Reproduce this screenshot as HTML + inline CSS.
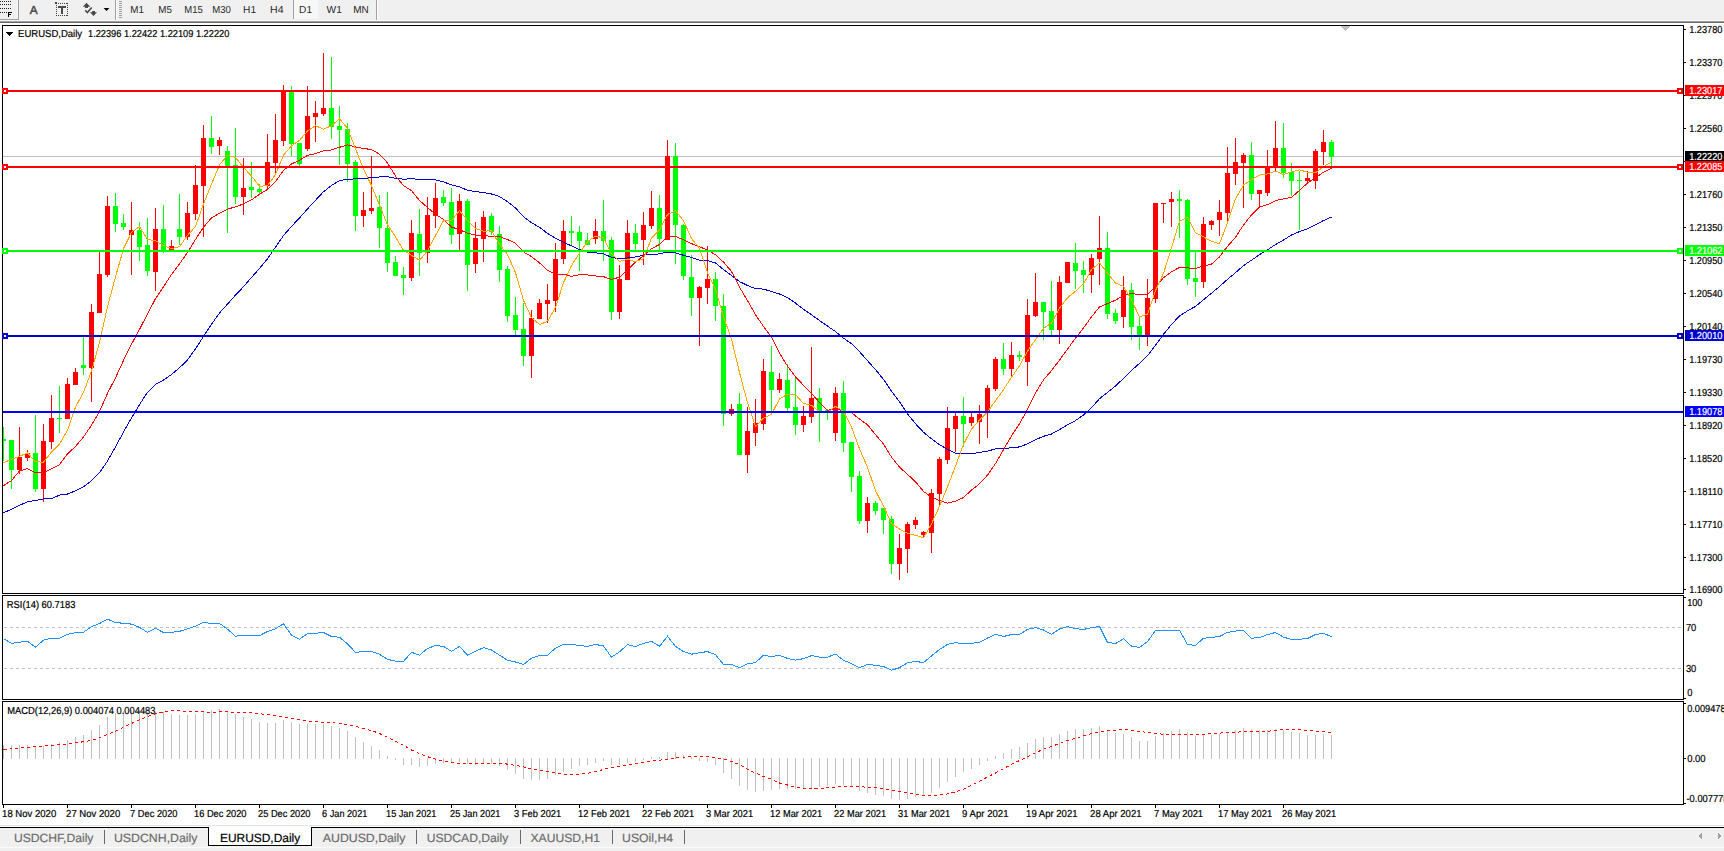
<!DOCTYPE html>
<html><head><meta charset="utf-8"><title>EURUSD,Daily</title>
<style>
html,body{margin:0;padding:0;background:#fff;}
body{width:1724px;height:851px;overflow:hidden;}
svg{display:block;font-family:"Liberation Sans", Arial, sans-serif;text-rendering:geometricPrecision;}
</style></head>
<body>
<svg width="1724" height="851" viewBox="0 0 1724 851" shape-rendering="crispEdges">
<rect x="0" y="0" width="1724" height="851" fill="#ffffff"/>
<rect x="0" y="0" width="1724" height="20" fill="#f0f0f0"/>
<rect x="0" y="20" width="1724" height="1" fill="#f6f6f6"/>
<rect x="0" y="21" width="1724" height="1" fill="#a0a0a0"/>
<rect x="0" y="22" width="1724" height="1" fill="#696969"/>
<rect x="18" y="0" width="1" height="19" fill="#a0a0a0"/>
<rect x="0" y="19" width="19" height="1" fill="#a0a0a0"/>
<rect x="17" y="0" width="1" height="19" fill="#f8f8f8"/>
<rect x="0" y="1" width="1" height="1" fill="#202020"/>
<rect x="2" y="1" width="1" height="1" fill="#202020"/>
<rect x="4" y="1" width="1" height="1" fill="#202020"/>
<rect x="6" y="1" width="1" height="1" fill="#202020"/>
<rect x="8" y="1" width="1" height="1" fill="#202020"/>
<rect x="10" y="1" width="1" height="1" fill="#202020"/>
<rect x="0" y="4" width="1" height="1" fill="#202020"/>
<rect x="2" y="4" width="1" height="1" fill="#202020"/>
<rect x="4" y="4" width="1" height="1" fill="#202020"/>
<rect x="6" y="4" width="1" height="1" fill="#202020"/>
<rect x="8" y="4" width="1" height="1" fill="#202020"/>
<rect x="10" y="4" width="1" height="1" fill="#202020"/>
<rect x="0" y="8" width="1" height="1" fill="#202020"/>
<rect x="2" y="8" width="1" height="1" fill="#202020"/>
<rect x="4" y="8" width="1" height="1" fill="#202020"/>
<rect x="6" y="8" width="1" height="1" fill="#202020"/>
<rect x="8" y="8" width="1" height="1" fill="#202020"/>
<rect x="10" y="8" width="1" height="1" fill="#202020"/>
<rect x="0" y="12" width="1" height="1" fill="#202020"/>
<rect x="2" y="12" width="1" height="1" fill="#202020"/>
<rect x="4" y="12" width="1" height="1" fill="#202020"/>
<rect x="6" y="12" width="1" height="1" fill="#202020"/>
<rect x="8" y="12" width="1" height="5" fill="#000"/>
<rect x="8" y="12" width="4" height="1" fill="#000"/>
<rect x="8" y="14" width="3" height="1" fill="#000"/>
<text x="29.8" y="14" font-size="11.8" fill="#4a4a4a" text-anchor="start" stroke="#4a4a4a" stroke-width="0.5">A</text>
<rect x="56" y="3" width="1" height="1" fill="#404040"/>
<rect x="56" y="15" width="1" height="1" fill="#404040"/>
<rect x="58" y="3" width="1" height="1" fill="#404040"/>
<rect x="58" y="15" width="1" height="1" fill="#404040"/>
<rect x="60" y="3" width="1" height="1" fill="#404040"/>
<rect x="60" y="15" width="1" height="1" fill="#404040"/>
<rect x="62" y="3" width="1" height="1" fill="#404040"/>
<rect x="62" y="15" width="1" height="1" fill="#404040"/>
<rect x="64" y="3" width="1" height="1" fill="#404040"/>
<rect x="64" y="15" width="1" height="1" fill="#404040"/>
<rect x="66" y="3" width="1" height="1" fill="#404040"/>
<rect x="66" y="15" width="1" height="1" fill="#404040"/>
<rect x="56" y="3" width="1" height="1" fill="#404040"/>
<rect x="67" y="3" width="1" height="1" fill="#404040"/>
<rect x="56" y="5" width="1" height="1" fill="#404040"/>
<rect x="67" y="5" width="1" height="1" fill="#404040"/>
<rect x="56" y="7" width="1" height="1" fill="#404040"/>
<rect x="67" y="7" width="1" height="1" fill="#404040"/>
<rect x="56" y="9" width="1" height="1" fill="#404040"/>
<rect x="67" y="9" width="1" height="1" fill="#404040"/>
<rect x="56" y="11" width="1" height="1" fill="#404040"/>
<rect x="67" y="11" width="1" height="1" fill="#404040"/>
<rect x="56" y="13" width="1" height="1" fill="#404040"/>
<rect x="67" y="13" width="1" height="1" fill="#404040"/>
<rect x="56" y="15" width="1" height="1" fill="#404040"/>
<rect x="67" y="15" width="1" height="1" fill="#404040"/>
<rect x="55" y="2" width="2" height="2" fill="#404040"/>
<rect x="58" y="6" width="8" height="2" fill="#4a4a4a"/>
<rect x="61" y="6" width="2" height="8" fill="#4a4a4a"/>
<g shape-rendering="geometricPrecision">
<path d="M86.5 2.8 L90.2 6.8 L88 6.8 L88 7.9 L85.1 7.9 L85.1 6.8 L82.8 6.8 Z" fill="#484848"/>
<path d="M85.2 10.2 L87.4 12.6 L91.7 7.4" stroke="#484848" stroke-width="1.5" fill="none"/>
<path d="M92.2 11.1 L95 11.1 L95 12.2 L97 12.2 L93.5 15.9 L90 12.2 L92.2 12.2 Z" fill="#484848"/>
<path d="M103.6 8 L109.4 8 L106.5 11 Z" fill="#000"/>
</g>
<rect x="115" y="0" width="1" height="20" fill="#a0a0a0"/>
<rect x="116" y="0" width="1" height="20" fill="#ffffff"/>
<rect x="119" y="1" width="3" height="1" fill="#a0a0a0"/>
<rect x="119" y="3" width="3" height="1" fill="#a0a0a0"/>
<rect x="119" y="5" width="3" height="1" fill="#a0a0a0"/>
<rect x="119" y="7" width="3" height="1" fill="#a0a0a0"/>
<rect x="119" y="9" width="3" height="1" fill="#a0a0a0"/>
<rect x="119" y="11" width="3" height="1" fill="#a0a0a0"/>
<rect x="119" y="13" width="3" height="1" fill="#a0a0a0"/>
<rect x="119" y="15" width="3" height="1" fill="#a0a0a0"/>
<rect x="119" y="17" width="3" height="1" fill="#a0a0a0"/>
<rect x="294" y="0" width="24" height="19" fill="#f7f7f7"/>
<rect x="293" y="0" width="1" height="19" fill="#a0a0a0"/>
<text x="130.29999999999998" y="13" font-size="10.2" fill="#2a2a2a" text-anchor="start" textLength="13.6" lengthAdjust="spacingAndGlyphs">M1</text>
<text x="158.29999999999998" y="13" font-size="10.2" fill="#2a2a2a" text-anchor="start" textLength="13.6" lengthAdjust="spacingAndGlyphs">M5</text>
<text x="184.29999999999998" y="13" font-size="10.2" fill="#2a2a2a" text-anchor="start" textLength="18.5" lengthAdjust="spacingAndGlyphs">M15</text>
<text x="212.2" y="13" font-size="10.2" fill="#2a2a2a" text-anchor="start" textLength="18.7" lengthAdjust="spacingAndGlyphs">M30</text>
<text x="243.1" y="13" font-size="10.2" fill="#2a2a2a" text-anchor="start" textLength="13" lengthAdjust="spacingAndGlyphs">H1</text>
<text x="270.1" y="13" font-size="10.2" fill="#2a2a2a" text-anchor="start" textLength="13.5" lengthAdjust="spacingAndGlyphs">H4</text>
<text x="299.1" y="13" font-size="10.2" fill="#2a2a2a" text-anchor="start" textLength="12.9" lengthAdjust="spacingAndGlyphs">D1</text>
<text x="326.6" y="13" font-size="10.2" fill="#2a2a2a" text-anchor="start" textLength="15.3" lengthAdjust="spacingAndGlyphs">W1</text>
<text x="353.3" y="13" font-size="10.2" fill="#2a2a2a" text-anchor="start" textLength="15.5" lengthAdjust="spacingAndGlyphs">MN</text>
<rect x="376" y="0" width="1" height="20" fill="#a0a0a0"/>
<rect x="377" y="0" width="1" height="20" fill="#ffffff"/>
<clipPath id="cm"><rect x="3" y="26" width="1680" height="567"/></clipPath>
<clipPath id="cr"><rect x="3" y="596" width="1680" height="103"/></clipPath>
<clipPath id="cd"><rect x="3" y="702" width="1680" height="102"/></clipPath>
<g clip-path="url(#cm)">
<rect x="3" y="156" width="1680" height="1" fill="#c0c0c0"/>
<path d="M1341 26 L1350 26 L1345.5 31 Z" fill="#c0c0c0"/>
<rect x="3" y="427" width="1" height="34" fill="#00ff00"/>
<rect x="1" y="439" width="5" height="2" fill="#00ff00"/>
<rect x="11" y="440" width="1" height="49" fill="#00ff00"/>
<rect x="9" y="440" width="5" height="30" fill="#00ff00"/>
<rect x="19" y="427" width="1" height="47" fill="#ff0000"/>
<rect x="17" y="457" width="5" height="13" fill="#ff0000"/>
<rect x="27" y="450" width="1" height="11" fill="#ff0000"/>
<rect x="25" y="453" width="5" height="5" fill="#ff0000"/>
<rect x="35" y="415" width="1" height="77" fill="#00ff00"/>
<rect x="33" y="453" width="5" height="36" fill="#00ff00"/>
<rect x="43" y="424" width="1" height="78" fill="#ff0000"/>
<rect x="41" y="441" width="5" height="48" fill="#ff0000"/>
<rect x="51" y="395" width="1" height="54" fill="#ff0000"/>
<rect x="49" y="418" width="5" height="24" fill="#ff0000"/>
<rect x="59" y="386" width="1" height="47" fill="#00ff00"/>
<rect x="57" y="418" width="5" height="1" fill="#00ff00"/>
<rect x="67" y="378" width="1" height="41" fill="#ff0000"/>
<rect x="65" y="384" width="5" height="35" fill="#ff0000"/>
<rect x="75" y="368" width="1" height="17" fill="#ff0000"/>
<rect x="73" y="372" width="5" height="13" fill="#ff0000"/>
<rect x="83" y="337" width="1" height="38" fill="#00ff00"/>
<rect x="81" y="365" width="5" height="3" fill="#00ff00"/>
<rect x="91" y="304" width="1" height="98" fill="#ff0000"/>
<rect x="89" y="312" width="5" height="56" fill="#ff0000"/>
<rect x="99" y="252" width="1" height="61" fill="#ff0000"/>
<rect x="97" y="274" width="5" height="39" fill="#ff0000"/>
<rect x="107" y="196" width="1" height="81" fill="#ff0000"/>
<rect x="105" y="206" width="5" height="69" fill="#ff0000"/>
<rect x="115" y="193" width="1" height="39" fill="#00ff00"/>
<rect x="113" y="206" width="5" height="18" fill="#00ff00"/>
<rect x="123" y="214" width="1" height="16" fill="#00ff00"/>
<rect x="121" y="223" width="5" height="4" fill="#00ff00"/>
<rect x="131" y="202" width="1" height="73" fill="#ff0000"/>
<rect x="129" y="230" width="5" height="5" fill="#ff0000"/>
<rect x="139" y="222" width="1" height="39" fill="#00ff00"/>
<rect x="137" y="230" width="5" height="17" fill="#00ff00"/>
<rect x="147" y="218" width="1" height="58" fill="#00ff00"/>
<rect x="145" y="245" width="5" height="26" fill="#00ff00"/>
<rect x="155" y="208" width="1" height="83" fill="#ff0000"/>
<rect x="153" y="229" width="5" height="43" fill="#ff0000"/>
<rect x="163" y="205" width="1" height="48" fill="#00ff00"/>
<rect x="161" y="229" width="5" height="22" fill="#00ff00"/>
<rect x="171" y="240" width="1" height="10" fill="#ff0000"/>
<rect x="169" y="246" width="5" height="4" fill="#ff0000"/>
<rect x="179" y="194" width="1" height="51" fill="#00ff00"/>
<rect x="177" y="229" width="5" height="8" fill="#00ff00"/>
<rect x="187" y="202" width="1" height="38" fill="#ff0000"/>
<rect x="185" y="213" width="5" height="24" fill="#ff0000"/>
<rect x="195" y="165" width="1" height="55" fill="#ff0000"/>
<rect x="193" y="185" width="5" height="29" fill="#ff0000"/>
<rect x="203" y="125" width="1" height="112" fill="#ff0000"/>
<rect x="201" y="138" width="5" height="48" fill="#ff0000"/>
<rect x="211" y="116" width="1" height="38" fill="#00ff00"/>
<rect x="209" y="138" width="5" height="9" fill="#00ff00"/>
<rect x="219" y="137" width="1" height="18" fill="#ff0000"/>
<rect x="217" y="140" width="5" height="6" fill="#ff0000"/>
<rect x="227" y="146" width="1" height="87" fill="#00ff00"/>
<rect x="225" y="151" width="5" height="15" fill="#00ff00"/>
<rect x="235" y="128" width="1" height="76" fill="#00ff00"/>
<rect x="233" y="165" width="5" height="32" fill="#00ff00"/>
<rect x="243" y="158" width="1" height="57" fill="#ff0000"/>
<rect x="241" y="188" width="5" height="9" fill="#ff0000"/>
<rect x="251" y="162" width="1" height="36" fill="#00ff00"/>
<rect x="249" y="187" width="5" height="3" fill="#00ff00"/>
<rect x="259" y="184" width="1" height="10" fill="#00ff00"/>
<rect x="257" y="189" width="5" height="3" fill="#00ff00"/>
<rect x="267" y="134" width="1" height="55" fill="#ff0000"/>
<rect x="265" y="162" width="5" height="24" fill="#ff0000"/>
<rect x="275" y="114" width="1" height="59" fill="#ff0000"/>
<rect x="273" y="140" width="5" height="23" fill="#ff0000"/>
<rect x="283" y="85" width="1" height="61" fill="#ff0000"/>
<rect x="281" y="91" width="5" height="50" fill="#ff0000"/>
<rect x="291" y="86" width="1" height="70" fill="#00ff00"/>
<rect x="289" y="91" width="5" height="53" fill="#00ff00"/>
<rect x="299" y="143" width="1" height="23" fill="#00ff00"/>
<rect x="297" y="143" width="5" height="21" fill="#00ff00"/>
<rect x="307" y="86" width="1" height="65" fill="#ff0000"/>
<rect x="305" y="116" width="5" height="33" fill="#ff0000"/>
<rect x="315" y="101" width="1" height="41" fill="#ff0000"/>
<rect x="313" y="113" width="5" height="4" fill="#ff0000"/>
<rect x="323" y="53" width="1" height="63" fill="#ff0000"/>
<rect x="321" y="108" width="5" height="6" fill="#ff0000"/>
<rect x="331" y="57" width="1" height="82" fill="#00ff00"/>
<rect x="329" y="108" width="5" height="19" fill="#00ff00"/>
<rect x="339" y="106" width="1" height="59" fill="#00ff00"/>
<rect x="337" y="126" width="5" height="4" fill="#00ff00"/>
<rect x="347" y="123" width="1" height="59" fill="#00ff00"/>
<rect x="345" y="129" width="5" height="35" fill="#00ff00"/>
<rect x="355" y="160" width="1" height="71" fill="#00ff00"/>
<rect x="353" y="162" width="5" height="54" fill="#00ff00"/>
<rect x="363" y="192" width="1" height="35" fill="#ff0000"/>
<rect x="361" y="210" width="5" height="6" fill="#ff0000"/>
<rect x="371" y="156" width="1" height="58" fill="#ff0000"/>
<rect x="369" y="208" width="5" height="3" fill="#ff0000"/>
<rect x="379" y="195" width="1" height="53" fill="#00ff00"/>
<rect x="377" y="207" width="5" height="21" fill="#00ff00"/>
<rect x="387" y="192" width="1" height="80" fill="#00ff00"/>
<rect x="385" y="228" width="5" height="35" fill="#00ff00"/>
<rect x="395" y="256" width="1" height="20" fill="#00ff00"/>
<rect x="393" y="262" width="5" height="14" fill="#00ff00"/>
<rect x="403" y="267" width="1" height="28" fill="#00ff00"/>
<rect x="401" y="275" width="5" height="3" fill="#00ff00"/>
<rect x="411" y="220" width="1" height="61" fill="#ff0000"/>
<rect x="409" y="233" width="5" height="45" fill="#ff0000"/>
<rect x="419" y="209" width="1" height="67" fill="#00ff00"/>
<rect x="417" y="234" width="5" height="19" fill="#00ff00"/>
<rect x="427" y="197" width="1" height="66" fill="#ff0000"/>
<rect x="425" y="215" width="5" height="38" fill="#ff0000"/>
<rect x="435" y="183" width="1" height="45" fill="#ff0000"/>
<rect x="433" y="198" width="5" height="18" fill="#ff0000"/>
<rect x="443" y="190" width="1" height="16" fill="#00ff00"/>
<rect x="441" y="197" width="5" height="6" fill="#00ff00"/>
<rect x="451" y="188" width="1" height="56" fill="#00ff00"/>
<rect x="449" y="202" width="5" height="33" fill="#00ff00"/>
<rect x="459" y="194" width="1" height="56" fill="#ff0000"/>
<rect x="457" y="201" width="5" height="33" fill="#ff0000"/>
<rect x="467" y="199" width="1" height="92" fill="#00ff00"/>
<rect x="465" y="201" width="5" height="64" fill="#00ff00"/>
<rect x="475" y="222" width="1" height="51" fill="#ff0000"/>
<rect x="473" y="238" width="5" height="26" fill="#ff0000"/>
<rect x="483" y="211" width="1" height="51" fill="#ff0000"/>
<rect x="481" y="217" width="5" height="22" fill="#ff0000"/>
<rect x="491" y="213" width="1" height="22" fill="#00ff00"/>
<rect x="489" y="216" width="5" height="16" fill="#00ff00"/>
<rect x="499" y="226" width="1" height="56" fill="#00ff00"/>
<rect x="497" y="234" width="5" height="36" fill="#00ff00"/>
<rect x="507" y="266" width="1" height="56" fill="#00ff00"/>
<rect x="505" y="269" width="5" height="47" fill="#00ff00"/>
<rect x="515" y="297" width="1" height="38" fill="#00ff00"/>
<rect x="513" y="315" width="5" height="15" fill="#00ff00"/>
<rect x="523" y="303" width="1" height="63" fill="#00ff00"/>
<rect x="521" y="329" width="5" height="27" fill="#00ff00"/>
<rect x="531" y="310" width="1" height="68" fill="#ff0000"/>
<rect x="529" y="318" width="5" height="38" fill="#ff0000"/>
<rect x="539" y="299" width="1" height="20" fill="#ff0000"/>
<rect x="537" y="303" width="5" height="16" fill="#ff0000"/>
<rect x="547" y="284" width="1" height="39" fill="#ff0000"/>
<rect x="545" y="300" width="5" height="4" fill="#ff0000"/>
<rect x="555" y="243" width="1" height="69" fill="#ff0000"/>
<rect x="553" y="259" width="5" height="42" fill="#ff0000"/>
<rect x="563" y="220" width="1" height="44" fill="#ff0000"/>
<rect x="561" y="231" width="5" height="28" fill="#ff0000"/>
<rect x="571" y="216" width="1" height="30" fill="#00ff00"/>
<rect x="569" y="231" width="5" height="2" fill="#00ff00"/>
<rect x="579" y="226" width="1" height="45" fill="#00ff00"/>
<rect x="577" y="232" width="5" height="9" fill="#00ff00"/>
<rect x="587" y="233" width="1" height="12" fill="#00ff00"/>
<rect x="585" y="240" width="5" height="5" fill="#00ff00"/>
<rect x="595" y="219" width="1" height="25" fill="#ff0000"/>
<rect x="593" y="231" width="5" height="8" fill="#ff0000"/>
<rect x="603" y="200" width="1" height="61" fill="#00ff00"/>
<rect x="601" y="231" width="5" height="10" fill="#00ff00"/>
<rect x="611" y="237" width="1" height="83" fill="#00ff00"/>
<rect x="609" y="240" width="5" height="72" fill="#00ff00"/>
<rect x="619" y="265" width="1" height="54" fill="#ff0000"/>
<rect x="617" y="279" width="5" height="33" fill="#ff0000"/>
<rect x="627" y="220" width="1" height="60" fill="#ff0000"/>
<rect x="625" y="233" width="5" height="47" fill="#ff0000"/>
<rect x="635" y="224" width="1" height="26" fill="#00ff00"/>
<rect x="633" y="233" width="5" height="11" fill="#00ff00"/>
<rect x="643" y="212" width="1" height="53" fill="#ff0000"/>
<rect x="641" y="225" width="5" height="15" fill="#ff0000"/>
<rect x="651" y="191" width="1" height="38" fill="#ff0000"/>
<rect x="649" y="208" width="5" height="18" fill="#ff0000"/>
<rect x="659" y="195" width="1" height="56" fill="#00ff00"/>
<rect x="657" y="208" width="5" height="31" fill="#00ff00"/>
<rect x="667" y="140" width="1" height="100" fill="#ff0000"/>
<rect x="665" y="156" width="5" height="84" fill="#ff0000"/>
<rect x="675" y="143" width="1" height="121" fill="#00ff00"/>
<rect x="673" y="156" width="5" height="69" fill="#00ff00"/>
<rect x="683" y="224" width="1" height="56" fill="#00ff00"/>
<rect x="681" y="225" width="5" height="51" fill="#00ff00"/>
<rect x="691" y="255" width="1" height="61" fill="#00ff00"/>
<rect x="689" y="277" width="5" height="21" fill="#00ff00"/>
<rect x="699" y="286" width="1" height="60" fill="#ff0000"/>
<rect x="697" y="287" width="5" height="11" fill="#ff0000"/>
<rect x="707" y="246" width="1" height="58" fill="#ff0000"/>
<rect x="705" y="279" width="5" height="9" fill="#ff0000"/>
<rect x="715" y="272" width="1" height="49" fill="#00ff00"/>
<rect x="713" y="279" width="5" height="27" fill="#00ff00"/>
<rect x="723" y="294" width="1" height="132" fill="#00ff00"/>
<rect x="721" y="306" width="5" height="108" fill="#00ff00"/>
<rect x="731" y="404" width="1" height="12" fill="#ff0000"/>
<rect x="729" y="409" width="5" height="5" fill="#ff0000"/>
<rect x="739" y="393" width="1" height="62" fill="#00ff00"/>
<rect x="737" y="404" width="5" height="51" fill="#00ff00"/>
<rect x="747" y="407" width="1" height="66" fill="#ff0000"/>
<rect x="745" y="431" width="5" height="24" fill="#ff0000"/>
<rect x="755" y="399" width="1" height="47" fill="#ff0000"/>
<rect x="753" y="423" width="5" height="10" fill="#ff0000"/>
<rect x="763" y="359" width="1" height="71" fill="#ff0000"/>
<rect x="761" y="371" width="5" height="53" fill="#ff0000"/>
<rect x="771" y="346" width="1" height="66" fill="#00ff00"/>
<rect x="769" y="372" width="5" height="18" fill="#00ff00"/>
<rect x="779" y="373" width="1" height="20" fill="#ff0000"/>
<rect x="777" y="379" width="5" height="11" fill="#ff0000"/>
<rect x="787" y="364" width="1" height="47" fill="#00ff00"/>
<rect x="785" y="380" width="5" height="28" fill="#00ff00"/>
<rect x="795" y="377" width="1" height="58" fill="#00ff00"/>
<rect x="793" y="407" width="5" height="18" fill="#00ff00"/>
<rect x="803" y="406" width="1" height="26" fill="#ff0000"/>
<rect x="801" y="416" width="5" height="9" fill="#ff0000"/>
<rect x="811" y="347" width="1" height="76" fill="#ff0000"/>
<rect x="809" y="398" width="5" height="19" fill="#ff0000"/>
<rect x="819" y="388" width="1" height="54" fill="#00ff00"/>
<rect x="817" y="398" width="5" height="14" fill="#00ff00"/>
<rect x="827" y="409" width="1" height="11" fill="#00ff00"/>
<rect x="825" y="410" width="5" height="2" fill="#00ff00"/>
<rect x="835" y="387" width="1" height="54" fill="#ff0000"/>
<rect x="833" y="393" width="5" height="40" fill="#ff0000"/>
<rect x="843" y="381" width="1" height="71" fill="#00ff00"/>
<rect x="841" y="393" width="5" height="50" fill="#00ff00"/>
<rect x="851" y="442" width="1" height="50" fill="#00ff00"/>
<rect x="849" y="442" width="5" height="35" fill="#00ff00"/>
<rect x="859" y="471" width="1" height="53" fill="#00ff00"/>
<rect x="857" y="476" width="5" height="45" fill="#00ff00"/>
<rect x="867" y="497" width="1" height="36" fill="#ff0000"/>
<rect x="865" y="503" width="5" height="18" fill="#ff0000"/>
<rect x="875" y="501" width="1" height="14" fill="#00ff00"/>
<rect x="873" y="503" width="5" height="8" fill="#00ff00"/>
<rect x="883" y="508" width="1" height="26" fill="#00ff00"/>
<rect x="881" y="508" width="5" height="12" fill="#00ff00"/>
<rect x="891" y="516" width="1" height="58" fill="#00ff00"/>
<rect x="889" y="519" width="5" height="45" fill="#00ff00"/>
<rect x="899" y="534" width="1" height="46" fill="#ff0000"/>
<rect x="897" y="548" width="5" height="16" fill="#ff0000"/>
<rect x="907" y="522" width="1" height="51" fill="#ff0000"/>
<rect x="905" y="524" width="5" height="25" fill="#ff0000"/>
<rect x="915" y="517" width="1" height="12" fill="#ff0000"/>
<rect x="913" y="520" width="5" height="5" fill="#ff0000"/>
<rect x="923" y="531" width="1" height="6" fill="#ff0000"/>
<rect x="921" y="532" width="5" height="3" fill="#ff0000"/>
<rect x="931" y="489" width="1" height="64" fill="#ff0000"/>
<rect x="929" y="493" width="5" height="40" fill="#ff0000"/>
<rect x="939" y="457" width="1" height="48" fill="#ff0000"/>
<rect x="937" y="459" width="5" height="35" fill="#ff0000"/>
<rect x="947" y="407" width="1" height="57" fill="#ff0000"/>
<rect x="945" y="428" width="5" height="32" fill="#ff0000"/>
<rect x="955" y="413" width="1" height="39" fill="#ff0000"/>
<rect x="953" y="416" width="5" height="13" fill="#ff0000"/>
<rect x="963" y="397" width="1" height="50" fill="#00ff00"/>
<rect x="961" y="416" width="5" height="8" fill="#00ff00"/>
<rect x="971" y="413" width="1" height="13" fill="#ff0000"/>
<rect x="969" y="417" width="5" height="6" fill="#ff0000"/>
<rect x="979" y="405" width="1" height="39" fill="#ff0000"/>
<rect x="977" y="414" width="5" height="8" fill="#ff0000"/>
<rect x="987" y="385" width="1" height="53" fill="#ff0000"/>
<rect x="985" y="388" width="5" height="25" fill="#ff0000"/>
<rect x="995" y="357" width="1" height="34" fill="#ff0000"/>
<rect x="993" y="359" width="5" height="30" fill="#ff0000"/>
<rect x="1003" y="343" width="1" height="32" fill="#00ff00"/>
<rect x="1001" y="359" width="5" height="10" fill="#00ff00"/>
<rect x="1011" y="342" width="1" height="36" fill="#ff0000"/>
<rect x="1009" y="355" width="5" height="14" fill="#ff0000"/>
<rect x="1019" y="351" width="1" height="10" fill="#00ff00"/>
<rect x="1017" y="355" width="5" height="2" fill="#00ff00"/>
<rect x="1027" y="299" width="1" height="87" fill="#ff0000"/>
<rect x="1025" y="315" width="5" height="47" fill="#ff0000"/>
<rect x="1035" y="273" width="1" height="44" fill="#ff0000"/>
<rect x="1033" y="302" width="5" height="14" fill="#ff0000"/>
<rect x="1043" y="302" width="1" height="38" fill="#00ff00"/>
<rect x="1041" y="302" width="5" height="10" fill="#00ff00"/>
<rect x="1051" y="281" width="1" height="54" fill="#00ff00"/>
<rect x="1049" y="311" width="5" height="19" fill="#00ff00"/>
<rect x="1059" y="276" width="1" height="68" fill="#ff0000"/>
<rect x="1057" y="282" width="5" height="48" fill="#ff0000"/>
<rect x="1067" y="262" width="1" height="21" fill="#ff0000"/>
<rect x="1065" y="262" width="5" height="21" fill="#ff0000"/>
<rect x="1075" y="243" width="1" height="46" fill="#00ff00"/>
<rect x="1073" y="263" width="5" height="8" fill="#00ff00"/>
<rect x="1083" y="261" width="1" height="32" fill="#00ff00"/>
<rect x="1081" y="270" width="5" height="5" fill="#00ff00"/>
<rect x="1091" y="254" width="1" height="39" fill="#ff0000"/>
<rect x="1089" y="258" width="5" height="17" fill="#ff0000"/>
<rect x="1099" y="216" width="1" height="69" fill="#ff0000"/>
<rect x="1097" y="248" width="5" height="11" fill="#ff0000"/>
<rect x="1107" y="232" width="1" height="87" fill="#00ff00"/>
<rect x="1105" y="248" width="5" height="66" fill="#00ff00"/>
<rect x="1115" y="309" width="1" height="15" fill="#00ff00"/>
<rect x="1113" y="313" width="5" height="8" fill="#00ff00"/>
<rect x="1123" y="276" width="1" height="52" fill="#ff0000"/>
<rect x="1121" y="290" width="5" height="27" fill="#ff0000"/>
<rect x="1131" y="283" width="1" height="57" fill="#00ff00"/>
<rect x="1129" y="290" width="5" height="37" fill="#00ff00"/>
<rect x="1139" y="317" width="1" height="33" fill="#00ff00"/>
<rect x="1137" y="326" width="5" height="9" fill="#00ff00"/>
<rect x="1147" y="279" width="1" height="67" fill="#ff0000"/>
<rect x="1145" y="298" width="5" height="37" fill="#ff0000"/>
<rect x="1155" y="203" width="1" height="100" fill="#ff0000"/>
<rect x="1153" y="203" width="5" height="96" fill="#ff0000"/>
<rect x="1163" y="203" width="1" height="20" fill="#ff0000"/>
<rect x="1161" y="203" width="5" height="1" fill="#ff0000"/>
<rect x="1171" y="192" width="1" height="35" fill="#ff0000"/>
<rect x="1169" y="199" width="5" height="3" fill="#ff0000"/>
<rect x="1179" y="190" width="1" height="48" fill="#00ff00"/>
<rect x="1177" y="199" width="5" height="2" fill="#00ff00"/>
<rect x="1187" y="199" width="1" height="86" fill="#00ff00"/>
<rect x="1185" y="200" width="5" height="79" fill="#00ff00"/>
<rect x="1195" y="252" width="1" height="45" fill="#00ff00"/>
<rect x="1193" y="278" width="5" height="4" fill="#00ff00"/>
<rect x="1203" y="217" width="1" height="71" fill="#ff0000"/>
<rect x="1201" y="224" width="5" height="58" fill="#ff0000"/>
<rect x="1211" y="220" width="1" height="10" fill="#ff0000"/>
<rect x="1209" y="221" width="5" height="4" fill="#ff0000"/>
<rect x="1219" y="200" width="1" height="36" fill="#ff0000"/>
<rect x="1217" y="212" width="5" height="8" fill="#ff0000"/>
<rect x="1227" y="147" width="1" height="74" fill="#ff0000"/>
<rect x="1225" y="173" width="5" height="40" fill="#ff0000"/>
<rect x="1235" y="138" width="1" height="47" fill="#ff0000"/>
<rect x="1233" y="162" width="5" height="12" fill="#ff0000"/>
<rect x="1243" y="153" width="1" height="55" fill="#ff0000"/>
<rect x="1241" y="155" width="5" height="8" fill="#ff0000"/>
<rect x="1251" y="142" width="1" height="58" fill="#00ff00"/>
<rect x="1249" y="155" width="5" height="39" fill="#00ff00"/>
<rect x="1259" y="190" width="1" height="18" fill="#ff0000"/>
<rect x="1257" y="190" width="5" height="4" fill="#ff0000"/>
<rect x="1267" y="150" width="1" height="46" fill="#ff0000"/>
<rect x="1265" y="167" width="5" height="26" fill="#ff0000"/>
<rect x="1275" y="121" width="1" height="50" fill="#ff0000"/>
<rect x="1273" y="148" width="5" height="19" fill="#ff0000"/>
<rect x="1283" y="123" width="1" height="55" fill="#00ff00"/>
<rect x="1281" y="148" width="5" height="25" fill="#00ff00"/>
<rect x="1291" y="163" width="1" height="33" fill="#00ff00"/>
<rect x="1289" y="172" width="5" height="9" fill="#00ff00"/>
<rect x="1299" y="171" width="1" height="59" fill="#00ff00"/>
<rect x="1297" y="180" width="5" height="1" fill="#00ff00"/>
<rect x="1307" y="171" width="1" height="11" fill="#ff0000"/>
<rect x="1305" y="178" width="5" height="3" fill="#ff0000"/>
<rect x="1315" y="149" width="1" height="40" fill="#ff0000"/>
<rect x="1313" y="151" width="5" height="30" fill="#ff0000"/>
<rect x="1323" y="130" width="1" height="35" fill="#ff0000"/>
<rect x="1321" y="142" width="5" height="10" fill="#ff0000"/>
<rect x="1331" y="140" width="1" height="26" fill="#00ff00"/>
<rect x="1329" y="142" width="5" height="15" fill="#00ff00"/>
<polyline points="3.5,512.8 11.5,509.2 19.5,505.4 27.5,501.8 35.5,500.4 43.5,499.0 51.5,498.7 59.5,495.1 67.5,494.0 75.5,490.8 83.5,486.9 91.5,480.7 99.5,472.8 107.5,461.0 115.5,446.9 123.5,432.0 131.5,418.0 139.5,404.6 147.5,392.3 155.5,384.5 163.5,380.0 171.5,374.5 179.5,367.8 187.5,359.9 195.5,348.8 203.5,336.5 211.5,324.2 219.5,313.0 227.5,304.1 235.5,295.1 243.5,286.7 251.5,277.4 259.5,268.5 267.5,258.8 275.5,247.2 283.5,235.5 291.5,226.4 299.5,217.9 307.5,208.9 315.5,200.3 323.5,191.7 331.5,185.5 339.5,180.6 347.5,179.2 355.5,178.9 363.5,178.4 371.5,177.7 379.5,177.0 387.5,176.8 395.5,178.3 403.5,179.2 411.5,178.8 419.5,179.3 427.5,179.4 435.5,179.8 443.5,181.9 451.5,184.9 459.5,186.9 467.5,190.2 475.5,191.6 483.5,192.6 491.5,194.0 499.5,196.6 507.5,201.7 515.5,208.0 523.5,216.8 531.5,222.6 539.5,227.3 547.5,233.4 555.5,238.3 563.5,242.4 571.5,245.9 579.5,249.6 587.5,252.3 595.5,252.8 603.5,253.8 611.5,257.3 619.5,259.0 627.5,258.0 635.5,257.0 643.5,255.2 651.5,254.4 659.5,253.9 667.5,252.0 675.5,252.8 683.5,255.3 691.5,257.4 699.5,260.2 707.5,260.7 715.5,263.0 723.5,269.5 731.5,275.4 739.5,281.6 747.5,285.5 755.5,288.6 763.5,289.1 771.5,291.5 779.5,294.0 787.5,297.6 795.5,303.1 803.5,309.3 811.5,314.8 819.5,320.5 827.5,326.1 835.5,331.5 843.5,338.2 851.5,343.7 859.5,351.7 867.5,360.7 875.5,369.6 883.5,379.4 891.5,391.3 899.5,401.6 907.5,413.9 915.5,423.7 923.5,432.3 931.5,438.8 939.5,444.6 947.5,449.5 955.5,453.2 963.5,453.6 971.5,453.8 979.5,452.5 987.5,451.1 995.5,448.9 1003.5,448.8 1011.5,447.7 1019.5,446.9 1027.5,443.9 1035.5,439.8 1043.5,436.3 1051.5,434.0 1059.5,429.7 1067.5,424.7 1075.5,420.6 1083.5,415.0 1091.5,407.8 1099.5,398.7 1107.5,392.4 1115.5,386.0 1123.5,378.4 1131.5,370.5 1139.5,363.4 1147.5,355.8 1155.5,345.3 1163.5,334.3 1171.5,324.5 1179.5,315.9 1187.5,310.9 1195.5,306.4 1203.5,299.7 1211.5,293.2 1219.5,286.5 1227.5,279.3 1235.5,272.7 1243.5,265.6 1251.5,260.2 1259.5,254.7 1267.5,249.8 1275.5,244.6 1283.5,240.0 1291.5,235.0 1299.5,231.6 1307.5,228.8 1315.5,224.9 1323.5,220.5 1331.5,217.1" fill="none" stroke="#0000cd" stroke-width="1"/>
<polyline points="3.5,485.7 11.5,480.5 19.5,471.0 27.5,468.7 35.5,472.8 43.5,472.8 51.5,468.7 59.5,464.6 67.5,454.0 75.5,446.4 83.5,437.0 91.5,425.2 99.5,411.5 107.5,393.3 115.5,377.8 123.5,360.4 131.5,344.2 139.5,329.4 147.5,313.9 155.5,298.7 163.5,286.7 171.5,274.4 179.5,263.9 187.5,252.5 195.5,239.5 203.5,227.1 211.5,217.9 219.5,213.2 227.5,209.1 235.5,206.9 243.5,203.9 251.5,199.9 259.5,194.2 267.5,189.4 275.5,181.6 283.5,170.5 291.5,163.9 299.5,160.3 307.5,155.4 315.5,153.6 323.5,150.9 331.5,149.9 339.5,147.3 347.5,144.9 355.5,146.9 363.5,148.4 371.5,149.6 379.5,154.2 387.5,162.9 395.5,176.1 403.5,185.6 411.5,190.6 419.5,200.4 427.5,207.6 435.5,214.1 443.5,219.5 451.5,227.0 459.5,229.7 467.5,233.2 475.5,235.2 483.5,235.9 491.5,236.1 499.5,236.6 507.5,239.5 515.5,243.2 523.5,251.9 531.5,256.6 539.5,262.9 547.5,270.2 555.5,274.3 563.5,274.1 571.5,276.3 579.5,274.6 587.5,275.0 595.5,276.0 603.5,276.6 611.5,279.6 619.5,277.1 627.5,270.2 635.5,262.2 643.5,255.6 651.5,248.8 659.5,244.4 667.5,237.0 675.5,236.5 683.5,239.6 691.5,243.6 699.5,246.7 707.5,250.1 715.5,254.8 723.5,262.1 731.5,271.4 739.5,287.1 747.5,300.6 755.5,314.7 763.5,326.4 771.5,337.1 779.5,353.1 787.5,366.1 795.5,376.8 803.5,385.3 811.5,393.2 819.5,402.6 827.5,410.2 835.5,408.8 843.5,411.1 851.5,412.7 859.5,419.1 867.5,424.8 875.5,434.7 883.5,444.0 891.5,457.1 899.5,467.2 907.5,474.4 915.5,481.8 923.5,491.4 931.5,497.2 939.5,500.6 947.5,503.1 955.5,501.3 963.5,497.5 971.5,490.1 979.5,483.8 987.5,475.1 995.5,463.6 1003.5,449.7 1011.5,435.9 1019.5,423.9 1027.5,409.3 1035.5,392.9 1043.5,379.9 1051.5,370.6 1059.5,360.1 1067.5,349.1 1075.5,338.2 1083.5,328.0 1091.5,316.9 1099.5,306.9 1107.5,303.6 1115.5,300.1 1123.5,295.5 1131.5,293.4 1139.5,294.7 1147.5,294.4 1155.5,286.7 1163.5,277.7 1171.5,271.8 1179.5,267.4 1187.5,267.9 1195.5,268.4 1203.5,266.0 1211.5,264.1 1219.5,256.9 1227.5,246.4 1235.5,237.2 1243.5,225.0 1251.5,214.9 1259.5,207.2 1267.5,204.6 1275.5,200.7 1283.5,198.8 1291.5,197.4 1299.5,190.4 1307.5,183.0 1315.5,177.8 1323.5,172.1 1331.5,168.1" fill="none" stroke="#ff0000" stroke-width="1"/>
<polyline points="3.5,462.8 11.5,459.3 19.5,456.3 27.5,452.8 35.5,461.9 43.5,462.1 51.5,451.9 59.5,444.1 67.5,430.3 75.5,407.1 83.5,392.3 91.5,371.1 99.5,342.3 107.5,306.7 115.5,276.9 123.5,248.7 131.5,232.3 139.5,226.7 147.5,239.5 155.5,240.7 163.5,245.5 171.5,248.7 179.5,246.7 187.5,235.3 195.5,226.5 203.5,204.1 211.5,184.1 219.5,164.9 227.5,155.3 235.5,157.5 243.5,167.5 251.5,176.1 259.5,186.3 267.5,185.7 275.5,174.5 283.5,155.1 291.5,145.9 299.5,140.3 307.5,131.1 315.5,125.7 323.5,129.1 331.5,125.7 339.5,118.9 347.5,128.3 355.5,148.7 363.5,169.1 371.5,185.5 379.5,205.1 387.5,224.9 395.5,236.9 403.5,250.3 411.5,255.3 419.5,260.3 427.5,250.9 435.5,235.5 443.5,220.5 451.5,220.7 459.5,210.5 467.5,220.3 475.5,228.3 483.5,231.3 491.5,230.7 499.5,244.3 507.5,254.5 515.5,272.7 523.5,300.3 531.5,317.7 539.5,324.5 547.5,321.5 555.5,307.5 563.5,282.7 571.5,265.5 579.5,252.9 587.5,241.7 595.5,236.1 603.5,237.9 611.5,253.7 619.5,261.5 627.5,259.3 635.5,261.7 643.5,258.7 651.5,238.1 659.5,229.9 667.5,214.5 675.5,210.7 683.5,220.7 691.5,238.5 699.5,248.3 707.5,272.9 715.5,289.1 723.5,316.7 731.5,339.1 739.5,372.5 747.5,402.9 755.5,426.5 763.5,418.1 771.5,414.1 779.5,399.1 787.5,394.3 795.5,394.5 803.5,403.5 811.5,405.3 819.5,411.7 827.5,412.5 835.5,406.3 843.5,411.5 851.5,427.1 859.5,448.9 867.5,467.3 875.5,490.7 883.5,506.1 891.5,523.5 899.5,529.1 907.5,533.3 915.5,535.3 923.5,537.9 931.5,523.9 939.5,506.1 947.5,486.9 955.5,466.1 963.5,444.3 971.5,429.1 979.5,420.1 987.5,412.1 995.5,400.7 1003.5,389.7 1011.5,377.3 1019.5,365.7 1027.5,351.1 1035.5,339.7 1043.5,328.3 1051.5,323.1 1059.5,308.3 1067.5,297.7 1075.5,291.3 1083.5,283.9 1091.5,269.7 1099.5,262.9 1107.5,273.1 1115.5,283.1 1123.5,286.3 1131.5,299.9 1139.5,317.1 1147.5,314.1 1155.5,290.7 1163.5,273.3 1171.5,247.9 1179.5,221.1 1187.5,217.1 1195.5,232.7 1203.5,236.9 1211.5,241.3 1219.5,243.7 1227.5,222.7 1235.5,198.9 1243.5,185.1 1251.5,179.5 1259.5,175.1 1267.5,173.9 1275.5,171.1 1283.5,174.5 1291.5,171.9 1299.5,169.9 1307.5,172.1 1315.5,172.7 1323.5,166.7 1331.5,161.9" fill="none" stroke="#ffa500" stroke-width="1"/>
<rect x="3" y="90" width="1680" height="1" fill="#ff0000"/>
<rect x="3" y="91" width="1680" height="1" fill="#ff0000"/>
<rect x="2" y="88" width="6" height="6" fill="#ff0000"/>
<rect x="4" y="90" width="2" height="2" fill="#ffffff"/>
<rect x="1677" y="88" width="6" height="6" fill="#ff0000"/>
<rect x="1679" y="90" width="2" height="2" fill="#ffffff"/>
<rect x="3" y="166" width="1680" height="1" fill="#ff0000"/>
<rect x="3" y="167" width="1680" height="1" fill="#ff0000"/>
<rect x="2" y="164" width="6" height="6" fill="#ff0000"/>
<rect x="4" y="166" width="2" height="2" fill="#ffffff"/>
<rect x="1677" y="164" width="6" height="6" fill="#ff0000"/>
<rect x="1679" y="166" width="2" height="2" fill="#ffffff"/>
<rect x="3" y="250" width="1680" height="1" fill="#00ff00"/>
<rect x="3" y="251" width="1680" height="1" fill="#00ff00"/>
<rect x="2" y="248" width="6" height="6" fill="#00ff00"/>
<rect x="4" y="250" width="2" height="2" fill="#ffffff"/>
<rect x="1677" y="248" width="6" height="6" fill="#00ff00"/>
<rect x="1679" y="250" width="2" height="2" fill="#ffffff"/>
<rect x="3" y="335" width="1680" height="1" fill="#0000cd"/>
<rect x="3" y="336" width="1680" height="1" fill="#0000cd"/>
<rect x="2" y="333" width="6" height="6" fill="#0000cd"/>
<rect x="4" y="335" width="2" height="2" fill="#ffffff"/>
<rect x="1677" y="333" width="6" height="6" fill="#0000cd"/>
<rect x="1679" y="335" width="2" height="2" fill="#ffffff"/>
<rect x="3" y="411" width="1680" height="1" fill="#0000ff"/>
<rect x="3" y="412" width="1680" height="1" fill="#0000ff"/>
</g>
<path d="M6 32 L13 32 L9.5 36 Z" fill="#000"/>
<text x="18.1" y="37" font-size="10.2" fill="#000" text-anchor="start" stroke="#000" stroke-width="0.2" textLength="64" lengthAdjust="spacingAndGlyphs">EURUSD,Daily</text>
<text x="88.0" y="37" font-size="10.2" fill="#000" text-anchor="start" stroke="#000" stroke-width="0.2" textLength="141.3" lengthAdjust="spacingAndGlyphs">1.22396 1.22422 1.22109 1.22220</text>
<rect x="2" y="25" width="1682" height="1" fill="#000"/>
<rect x="2" y="593" width="1682" height="1" fill="#000"/>
<rect x="2" y="25" width="1" height="569" fill="#000"/>
<rect x="1683" y="25" width="1" height="569" fill="#000"/>
<rect x="2" y="88" width="6" height="6" fill="#ff0000"/>
<rect x="4" y="90" width="2" height="2" fill="#ffffff"/>
<rect x="1677" y="88" width="6" height="6" fill="#ff0000"/>
<rect x="1679" y="90" width="2" height="2" fill="#ffffff"/>
<rect x="2" y="164" width="6" height="6" fill="#ff0000"/>
<rect x="4" y="166" width="2" height="2" fill="#ffffff"/>
<rect x="1677" y="164" width="6" height="6" fill="#ff0000"/>
<rect x="1679" y="166" width="2" height="2" fill="#ffffff"/>
<rect x="2" y="248" width="6" height="6" fill="#00ff00"/>
<rect x="4" y="250" width="2" height="2" fill="#ffffff"/>
<rect x="1677" y="248" width="6" height="6" fill="#00ff00"/>
<rect x="1679" y="250" width="2" height="2" fill="#ffffff"/>
<rect x="2" y="333" width="6" height="6" fill="#0000cd"/>
<rect x="4" y="335" width="2" height="2" fill="#ffffff"/>
<rect x="1677" y="333" width="6" height="6" fill="#0000cd"/>
<rect x="1679" y="335" width="2" height="2" fill="#ffffff"/>
<rect x="1684" y="29" width="2" height="1" fill="#000"/>
<text x="1689.2" y="33" font-size="10.2" fill="#000" text-anchor="start" stroke="#000" stroke-width="0.2" textLength="33.2" lengthAdjust="spacingAndGlyphs">1.23780</text>
<rect x="1684" y="62" width="2" height="1" fill="#000"/>
<text x="1689.2" y="66" font-size="10.2" fill="#000" text-anchor="start" stroke="#000" stroke-width="0.2" textLength="33.2" lengthAdjust="spacingAndGlyphs">1.23370</text>
<rect x="1684" y="95" width="2" height="1" fill="#000"/>
<text x="1689.2" y="99" font-size="10.2" fill="#000" text-anchor="start" stroke="#000" stroke-width="0.2" textLength="33.2" lengthAdjust="spacingAndGlyphs">1.22970</text>
<rect x="1684" y="128" width="2" height="1" fill="#000"/>
<text x="1689.2" y="132" font-size="10.2" fill="#000" text-anchor="start" stroke="#000" stroke-width="0.2" textLength="33.2" lengthAdjust="spacingAndGlyphs">1.22560</text>
<rect x="1684" y="161" width="2" height="1" fill="#000"/>
<text x="1689.2" y="165" font-size="10.2" fill="#000" text-anchor="start" stroke="#000" stroke-width="0.2" textLength="33.2" lengthAdjust="spacingAndGlyphs">1.22160</text>
<rect x="1684" y="194" width="2" height="1" fill="#000"/>
<text x="1689.2" y="198" font-size="10.2" fill="#000" text-anchor="start" stroke="#000" stroke-width="0.2" textLength="33.2" lengthAdjust="spacingAndGlyphs">1.21760</text>
<rect x="1684" y="227" width="2" height="1" fill="#000"/>
<text x="1689.2" y="231" font-size="10.2" fill="#000" text-anchor="start" stroke="#000" stroke-width="0.2" textLength="33.2" lengthAdjust="spacingAndGlyphs">1.21350</text>
<rect x="1684" y="260" width="2" height="1" fill="#000"/>
<text x="1689.2" y="264" font-size="10.2" fill="#000" text-anchor="start" stroke="#000" stroke-width="0.2" textLength="33.2" lengthAdjust="spacingAndGlyphs">1.20950</text>
<rect x="1684" y="293" width="2" height="1" fill="#000"/>
<text x="1689.2" y="297" font-size="10.2" fill="#000" text-anchor="start" stroke="#000" stroke-width="0.2" textLength="33.2" lengthAdjust="spacingAndGlyphs">1.20540</text>
<rect x="1684" y="326" width="2" height="1" fill="#000"/>
<text x="1689.2" y="330" font-size="10.2" fill="#000" text-anchor="start" stroke="#000" stroke-width="0.2" textLength="33.2" lengthAdjust="spacingAndGlyphs">1.20140</text>
<rect x="1684" y="359" width="2" height="1" fill="#000"/>
<text x="1689.2" y="363" font-size="10.2" fill="#000" text-anchor="start" stroke="#000" stroke-width="0.2" textLength="33.2" lengthAdjust="spacingAndGlyphs">1.19730</text>
<rect x="1684" y="392" width="2" height="1" fill="#000"/>
<text x="1689.2" y="396" font-size="10.2" fill="#000" text-anchor="start" stroke="#000" stroke-width="0.2" textLength="33.2" lengthAdjust="spacingAndGlyphs">1.19330</text>
<rect x="1684" y="425" width="2" height="1" fill="#000"/>
<text x="1689.2" y="429" font-size="10.2" fill="#000" text-anchor="start" stroke="#000" stroke-width="0.2" textLength="33.2" lengthAdjust="spacingAndGlyphs">1.18920</text>
<rect x="1684" y="458" width="2" height="1" fill="#000"/>
<text x="1689.2" y="462" font-size="10.2" fill="#000" text-anchor="start" stroke="#000" stroke-width="0.2" textLength="33.2" lengthAdjust="spacingAndGlyphs">1.18520</text>
<rect x="1684" y="491" width="2" height="1" fill="#000"/>
<text x="1689.2" y="495" font-size="10.2" fill="#000" text-anchor="start" stroke="#000" stroke-width="0.2" textLength="33.2" lengthAdjust="spacingAndGlyphs">1.18110</text>
<rect x="1684" y="524" width="2" height="1" fill="#000"/>
<text x="1689.2" y="528" font-size="10.2" fill="#000" text-anchor="start" stroke="#000" stroke-width="0.2" textLength="33.2" lengthAdjust="spacingAndGlyphs">1.17710</text>
<rect x="1684" y="557" width="2" height="1" fill="#000"/>
<text x="1689.2" y="561" font-size="10.2" fill="#000" text-anchor="start" stroke="#000" stroke-width="0.2" textLength="33.2" lengthAdjust="spacingAndGlyphs">1.17300</text>
<rect x="1684" y="589" width="2" height="1" fill="#000"/>
<text x="1689.2" y="593" font-size="10.2" fill="#000" text-anchor="start" stroke="#000" stroke-width="0.2" textLength="33.2" lengthAdjust="spacingAndGlyphs">1.16900</text>
<rect x="1685" y="85" width="39" height="11" fill="#ff0000"/>
<text x="1689.2" y="94" font-size="10.2" fill="#fff" text-anchor="start" stroke="#fff" stroke-width="0.2" textLength="33.2" lengthAdjust="spacingAndGlyphs">1.23017</text>
<rect x="1685" y="151" width="39" height="10" fill="#000000"/>
<text x="1689.2" y="160" font-size="10.2" fill="#fff" text-anchor="start" stroke="#fff" stroke-width="0.2" textLength="33.2" lengthAdjust="spacingAndGlyphs">1.22220</text>
<rect x="1685" y="161" width="39" height="11" fill="#ff0000"/>
<text x="1689.2" y="170" font-size="10.2" fill="#fff" text-anchor="start" stroke="#fff" stroke-width="0.2" textLength="33.2" lengthAdjust="spacingAndGlyphs">1.22085</text>
<rect x="1685" y="245" width="39" height="11" fill="#00ff00"/>
<text x="1689.2" y="254" font-size="10.2" fill="#fff" text-anchor="start" stroke="#fff" stroke-width="0.2" textLength="33.2" lengthAdjust="spacingAndGlyphs">1.21062</text>
<rect x="1685" y="330" width="39" height="11" fill="#0000cd"/>
<text x="1689.2" y="339" font-size="10.2" fill="#fff" text-anchor="start" stroke="#fff" stroke-width="0.2" textLength="33.2" lengthAdjust="spacingAndGlyphs">1.20010</text>
<rect x="1685" y="406" width="39" height="11" fill="#0000ff"/>
<text x="1689.2" y="415" font-size="10.2" fill="#fff" text-anchor="start" stroke="#fff" stroke-width="0.2" textLength="33.2" lengthAdjust="spacingAndGlyphs">1.19078</text>
<g clip-path="url(#cr)">
<line x1="4" y1="627.5" x2="1681" y2="627.5" stroke="#c0c0c0" stroke-width="1" stroke-dasharray="3 3"/>
<line x1="4" y1="668.5" x2="1681" y2="668.5" stroke="#c0c0c0" stroke-width="1" stroke-dasharray="3 3"/>
<polyline points="3.5,638.6 11.5,643.4 19.5,642.2 27.5,641.4 35.5,647.1 43.5,640.2 51.5,638.2 59.5,638.2 67.5,634.3 75.5,632.6 83.5,632.3 91.5,626.6 99.5,623.5 107.5,619.2 115.5,622.5 123.5,623.3 131.5,624.1 139.5,627.4 147.5,632.4 155.5,628.2 163.5,632.6 171.5,632.4 179.5,631.3 187.5,628.9 195.5,626.2 203.5,622.2 211.5,623.6 219.5,623.4 227.5,629.2 235.5,636.2 243.5,635.3 251.5,635.4 259.5,635.6 267.5,631.5 275.5,628.8 283.5,623.8 291.5,635.2 299.5,639.3 307.5,633.5 315.5,633.3 323.5,632.5 331.5,636.5 339.5,637.2 347.5,643.8 355.5,652.4 363.5,651.6 371.5,651.4 379.5,654.3 387.5,659.3 395.5,661.2 403.5,661.4 411.5,652.3 419.5,655.2 427.5,648.5 435.5,645.6 443.5,646.3 451.5,651.5 459.5,646.3 467.5,655.2 475.5,651.2 483.5,647.7 491.5,650.0 499.5,655.1 507.5,660.2 515.5,662.0 523.5,664.5 531.5,658.2 539.5,655.6 547.5,655.2 555.5,648.1 563.5,644.4 571.5,644.5 579.5,645.5 587.5,646.4 595.5,644.4 603.5,646.0 611.5,657.2 619.5,651.9 627.5,644.6 635.5,646.5 643.5,643.4 651.5,641.3 659.5,646.3 667.5,636.3 675.5,646.3 683.5,651.6 691.5,654.2 699.5,652.7 707.5,651.6 715.5,654.7 723.5,664.5 731.5,664.5 739.5,667.7 747.5,663.8 755.5,662.6 763.5,655.2 771.5,656.6 779.5,655.4 787.5,658.4 795.5,660.2 803.5,658.6 811.5,655.6 819.5,657.2 827.5,657.2 835.5,654.1 843.5,660.2 851.5,663.7 859.5,667.7 867.5,664.5 875.5,665.3 883.5,666.5 891.5,670.3 899.5,667.7 907.5,662.8 915.5,661.4 923.5,662.6 931.5,655.9 939.5,649.5 947.5,644.4 955.5,642.6 963.5,643.8 971.5,643.3 979.5,642.4 987.5,638.0 995.5,634.4 1003.5,636.5 1011.5,634.5 1019.5,634.5 1027.5,629.4 1035.5,627.7 1043.5,630.0 1051.5,634.3 1059.5,629.0 1067.5,626.6 1075.5,628.6 1083.5,629.5 1091.5,627.6 1099.5,626.5 1107.5,642.4 1115.5,643.6 1123.5,638.8 1131.5,646.1 1139.5,647.4 1147.5,641.6 1155.5,630.5 1163.5,630.4 1171.5,630.2 1179.5,630.3 1187.5,644.6 1195.5,645.3 1203.5,638.3 1211.5,637.5 1219.5,636.5 1227.5,632.4 1235.5,631.1 1243.5,630.3 1251.5,638.2 1259.5,637.5 1267.5,634.6 1275.5,632.5 1283.5,637.2 1291.5,639.3 1299.5,639.3 1307.5,638.5 1315.5,634.5 1323.5,633.3 1331.5,636.7" fill="none" stroke="#1e90ff" stroke-width="1"/>
</g>
<rect x="2" y="595" width="1682" height="1" fill="#000"/>
<rect x="2" y="699" width="1682" height="1" fill="#000"/>
<rect x="2" y="595" width="1" height="105" fill="#000"/>
<rect x="1683" y="595" width="1" height="105" fill="#000"/>
<text x="6.8" y="608" font-size="10.2" fill="#000" text-anchor="start" stroke="#000" stroke-width="0.2" textLength="68.6" lengthAdjust="spacingAndGlyphs">RSI(14) 60.7183</text>
<rect x="1684" y="597" width="2" height="1" fill="#000"/>
<rect x="1684" y="698" width="2" height="1" fill="#000"/>
<text x="1687.2" y="606" font-size="10.2" fill="#000" text-anchor="start" stroke="#000" stroke-width="0.2" textLength="15.2" lengthAdjust="spacingAndGlyphs">100</text>
<text x="1685.9" y="631" font-size="10.2" fill="#000" text-anchor="start" stroke="#000" stroke-width="0.2" textLength="10.4" lengthAdjust="spacingAndGlyphs">70</text>
<text x="1685.9" y="672" font-size="10.2" fill="#000" text-anchor="start" stroke="#000" stroke-width="0.2" textLength="10.4" lengthAdjust="spacingAndGlyphs">30</text>
<text x="1687.2" y="696.2" font-size="10.2" fill="#000" text-anchor="start" stroke="#000" stroke-width="0.2" textLength="5.2" lengthAdjust="spacingAndGlyphs">0</text>
<g clip-path="url(#cd)">
<rect x="3" y="745" width="1" height="14" fill="#c0c0c0"/>
<rect x="11" y="745" width="1" height="14" fill="#c0c0c0"/>
<rect x="19" y="745" width="1" height="14" fill="#c0c0c0"/>
<rect x="27" y="745" width="1" height="14" fill="#c0c0c0"/>
<rect x="35" y="746" width="1" height="13" fill="#c0c0c0"/>
<rect x="43" y="746" width="1" height="13" fill="#c0c0c0"/>
<rect x="51" y="744" width="1" height="15" fill="#c0c0c0"/>
<rect x="59" y="742" width="1" height="17" fill="#c0c0c0"/>
<rect x="67" y="740" width="1" height="19" fill="#c0c0c0"/>
<rect x="75" y="737" width="1" height="22" fill="#c0c0c0"/>
<rect x="83" y="735" width="1" height="24" fill="#c0c0c0"/>
<rect x="91" y="730" width="1" height="29" fill="#c0c0c0"/>
<rect x="99" y="725" width="1" height="34" fill="#c0c0c0"/>
<rect x="107" y="717" width="1" height="42" fill="#c0c0c0"/>
<rect x="115" y="713" width="1" height="46" fill="#c0c0c0"/>
<rect x="123" y="711" width="1" height="48" fill="#c0c0c0"/>
<rect x="131" y="710" width="1" height="49" fill="#c0c0c0"/>
<rect x="139" y="710" width="1" height="49" fill="#c0c0c0"/>
<rect x="147" y="712" width="1" height="47" fill="#c0c0c0"/>
<rect x="155" y="712" width="1" height="47" fill="#c0c0c0"/>
<rect x="163" y="712" width="1" height="47" fill="#c0c0c0"/>
<rect x="171" y="714" width="1" height="45" fill="#c0c0c0"/>
<rect x="179" y="715" width="1" height="44" fill="#c0c0c0"/>
<rect x="187" y="715" width="1" height="44" fill="#c0c0c0"/>
<rect x="195" y="714" width="1" height="45" fill="#c0c0c0"/>
<rect x="203" y="712" width="1" height="47" fill="#c0c0c0"/>
<rect x="211" y="710" width="1" height="49" fill="#c0c0c0"/>
<rect x="219" y="709" width="1" height="50" fill="#c0c0c0"/>
<rect x="227" y="711" width="1" height="48" fill="#c0c0c0"/>
<rect x="235" y="714" width="1" height="45" fill="#c0c0c0"/>
<rect x="243" y="717" width="1" height="42" fill="#c0c0c0"/>
<rect x="251" y="719" width="1" height="40" fill="#c0c0c0"/>
<rect x="259" y="722" width="1" height="37" fill="#c0c0c0"/>
<rect x="267" y="723" width="1" height="36" fill="#c0c0c0"/>
<rect x="275" y="723" width="1" height="36" fill="#c0c0c0"/>
<rect x="283" y="720" width="1" height="39" fill="#c0c0c0"/>
<rect x="291" y="722" width="1" height="37" fill="#c0c0c0"/>
<rect x="299" y="724" width="1" height="35" fill="#c0c0c0"/>
<rect x="307" y="724" width="1" height="35" fill="#c0c0c0"/>
<rect x="315" y="724" width="1" height="35" fill="#c0c0c0"/>
<rect x="323" y="724" width="1" height="35" fill="#c0c0c0"/>
<rect x="331" y="726" width="1" height="33" fill="#c0c0c0"/>
<rect x="339" y="728" width="1" height="31" fill="#c0c0c0"/>
<rect x="347" y="731" width="1" height="28" fill="#c0c0c0"/>
<rect x="355" y="737" width="1" height="22" fill="#c0c0c0"/>
<rect x="363" y="742" width="1" height="17" fill="#c0c0c0"/>
<rect x="371" y="746" width="1" height="13" fill="#c0c0c0"/>
<rect x="379" y="750" width="1" height="9" fill="#c0c0c0"/>
<rect x="387" y="756" width="1" height="3" fill="#c0c0c0"/>
<rect x="395" y="758" width="1" height="2" fill="#c0c0c0"/>
<rect x="403" y="758" width="1" height="7" fill="#c0c0c0"/>
<rect x="411" y="758" width="1" height="7" fill="#c0c0c0"/>
<rect x="419" y="758" width="1" height="9" fill="#c0c0c0"/>
<rect x="427" y="758" width="1" height="8" fill="#c0c0c0"/>
<rect x="435" y="758" width="1" height="6" fill="#c0c0c0"/>
<rect x="443" y="758" width="1" height="5" fill="#c0c0c0"/>
<rect x="451" y="758" width="1" height="5" fill="#c0c0c0"/>
<rect x="459" y="758" width="1" height="4" fill="#c0c0c0"/>
<rect x="467" y="758" width="1" height="6" fill="#c0c0c0"/>
<rect x="475" y="758" width="1" height="7" fill="#c0c0c0"/>
<rect x="483" y="758" width="1" height="6" fill="#c0c0c0"/>
<rect x="491" y="758" width="1" height="6" fill="#c0c0c0"/>
<rect x="499" y="758" width="1" height="8" fill="#c0c0c0"/>
<rect x="507" y="758" width="1" height="12" fill="#c0c0c0"/>
<rect x="515" y="758" width="1" height="16" fill="#c0c0c0"/>
<rect x="523" y="758" width="1" height="21" fill="#c0c0c0"/>
<rect x="531" y="758" width="1" height="22" fill="#c0c0c0"/>
<rect x="539" y="758" width="1" height="22" fill="#c0c0c0"/>
<rect x="547" y="758" width="1" height="21" fill="#c0c0c0"/>
<rect x="555" y="758" width="1" height="17" fill="#c0c0c0"/>
<rect x="563" y="758" width="1" height="14" fill="#c0c0c0"/>
<rect x="571" y="758" width="1" height="11" fill="#c0c0c0"/>
<rect x="579" y="758" width="1" height="8" fill="#c0c0c0"/>
<rect x="587" y="758" width="1" height="7" fill="#c0c0c0"/>
<rect x="595" y="758" width="1" height="5" fill="#c0c0c0"/>
<rect x="603" y="758" width="1" height="3" fill="#c0c0c0"/>
<rect x="611" y="758" width="1" height="7" fill="#c0c0c0"/>
<rect x="619" y="758" width="1" height="7" fill="#c0c0c0"/>
<rect x="627" y="758" width="1" height="5" fill="#c0c0c0"/>
<rect x="635" y="758" width="1" height="4" fill="#c0c0c0"/>
<rect x="643" y="758" width="1" height="2" fill="#c0c0c0"/>
<rect x="651" y="757" width="1" height="2" fill="#c0c0c0"/>
<rect x="659" y="757" width="1" height="2" fill="#c0c0c0"/>
<rect x="667" y="752" width="1" height="7" fill="#c0c0c0"/>
<rect x="675" y="752" width="1" height="7" fill="#c0c0c0"/>
<rect x="683" y="755" width="1" height="4" fill="#c0c0c0"/>
<rect x="691" y="757" width="1" height="2" fill="#c0c0c0"/>
<rect x="699" y="758" width="1" height="3" fill="#c0c0c0"/>
<rect x="707" y="758" width="1" height="4" fill="#c0c0c0"/>
<rect x="715" y="758" width="1" height="7" fill="#c0c0c0"/>
<rect x="723" y="758" width="1" height="15" fill="#c0c0c0"/>
<rect x="731" y="758" width="1" height="21" fill="#c0c0c0"/>
<rect x="739" y="758" width="1" height="28" fill="#c0c0c0"/>
<rect x="747" y="758" width="1" height="32" fill="#c0c0c0"/>
<rect x="755" y="758" width="1" height="34" fill="#c0c0c0"/>
<rect x="763" y="758" width="1" height="33" fill="#c0c0c0"/>
<rect x="771" y="758" width="1" height="32" fill="#c0c0c0"/>
<rect x="779" y="758" width="1" height="31" fill="#c0c0c0"/>
<rect x="787" y="758" width="1" height="31" fill="#c0c0c0"/>
<rect x="795" y="758" width="1" height="31" fill="#c0c0c0"/>
<rect x="803" y="758" width="1" height="31" fill="#c0c0c0"/>
<rect x="811" y="758" width="1" height="30" fill="#c0c0c0"/>
<rect x="819" y="758" width="1" height="29" fill="#c0c0c0"/>
<rect x="827" y="758" width="1" height="28" fill="#c0c0c0"/>
<rect x="835" y="758" width="1" height="26" fill="#c0c0c0"/>
<rect x="843" y="758" width="1" height="27" fill="#c0c0c0"/>
<rect x="851" y="758" width="1" height="29" fill="#c0c0c0"/>
<rect x="859" y="758" width="1" height="33" fill="#c0c0c0"/>
<rect x="867" y="758" width="1" height="35" fill="#c0c0c0"/>
<rect x="875" y="758" width="1" height="37" fill="#c0c0c0"/>
<rect x="883" y="758" width="1" height="38" fill="#c0c0c0"/>
<rect x="891" y="758" width="1" height="41" fill="#c0c0c0"/>
<rect x="899" y="758" width="1" height="42" fill="#c0c0c0"/>
<rect x="907" y="758" width="1" height="41" fill="#c0c0c0"/>
<rect x="915" y="758" width="1" height="39" fill="#c0c0c0"/>
<rect x="923" y="758" width="1" height="38" fill="#c0c0c0"/>
<rect x="931" y="758" width="1" height="35" fill="#c0c0c0"/>
<rect x="939" y="758" width="1" height="30" fill="#c0c0c0"/>
<rect x="947" y="758" width="1" height="24" fill="#c0c0c0"/>
<rect x="955" y="758" width="1" height="19" fill="#c0c0c0"/>
<rect x="963" y="758" width="1" height="14" fill="#c0c0c0"/>
<rect x="971" y="758" width="1" height="11" fill="#c0c0c0"/>
<rect x="979" y="758" width="1" height="7" fill="#c0c0c0"/>
<rect x="987" y="758" width="1" height="3" fill="#c0c0c0"/>
<rect x="995" y="756" width="1" height="3" fill="#c0c0c0"/>
<rect x="1003" y="753" width="1" height="6" fill="#c0c0c0"/>
<rect x="1011" y="749" width="1" height="10" fill="#c0c0c0"/>
<rect x="1019" y="747" width="1" height="12" fill="#c0c0c0"/>
<rect x="1027" y="743" width="1" height="16" fill="#c0c0c0"/>
<rect x="1035" y="739" width="1" height="20" fill="#c0c0c0"/>
<rect x="1043" y="737" width="1" height="22" fill="#c0c0c0"/>
<rect x="1051" y="737" width="1" height="22" fill="#c0c0c0"/>
<rect x="1059" y="734" width="1" height="25" fill="#c0c0c0"/>
<rect x="1067" y="731" width="1" height="28" fill="#c0c0c0"/>
<rect x="1075" y="729" width="1" height="30" fill="#c0c0c0"/>
<rect x="1083" y="729" width="1" height="30" fill="#c0c0c0"/>
<rect x="1091" y="728" width="1" height="31" fill="#c0c0c0"/>
<rect x="1099" y="726" width="1" height="33" fill="#c0c0c0"/>
<rect x="1107" y="730" width="1" height="29" fill="#c0c0c0"/>
<rect x="1115" y="733" width="1" height="26" fill="#c0c0c0"/>
<rect x="1123" y="734" width="1" height="25" fill="#c0c0c0"/>
<rect x="1131" y="737" width="1" height="22" fill="#c0c0c0"/>
<rect x="1139" y="741" width="1" height="18" fill="#c0c0c0"/>
<rect x="1147" y="741" width="1" height="18" fill="#c0c0c0"/>
<rect x="1155" y="736" width="1" height="23" fill="#c0c0c0"/>
<rect x="1163" y="733" width="1" height="26" fill="#c0c0c0"/>
<rect x="1171" y="731" width="1" height="28" fill="#c0c0c0"/>
<rect x="1179" y="729" width="1" height="30" fill="#c0c0c0"/>
<rect x="1187" y="732" width="1" height="27" fill="#c0c0c0"/>
<rect x="1195" y="736" width="1" height="23" fill="#c0c0c0"/>
<rect x="1203" y="735" width="1" height="24" fill="#c0c0c0"/>
<rect x="1211" y="735" width="1" height="24" fill="#c0c0c0"/>
<rect x="1219" y="734" width="1" height="25" fill="#c0c0c0"/>
<rect x="1227" y="732" width="1" height="27" fill="#c0c0c0"/>
<rect x="1235" y="730" width="1" height="29" fill="#c0c0c0"/>
<rect x="1243" y="728" width="1" height="31" fill="#c0c0c0"/>
<rect x="1251" y="729" width="1" height="30" fill="#c0c0c0"/>
<rect x="1259" y="730" width="1" height="29" fill="#c0c0c0"/>
<rect x="1267" y="730" width="1" height="29" fill="#c0c0c0"/>
<rect x="1275" y="729" width="1" height="30" fill="#c0c0c0"/>
<rect x="1283" y="730" width="1" height="29" fill="#c0c0c0"/>
<rect x="1291" y="732" width="1" height="27" fill="#c0c0c0"/>
<rect x="1299" y="733" width="1" height="26" fill="#c0c0c0"/>
<rect x="1307" y="735" width="1" height="24" fill="#c0c0c0"/>
<rect x="1315" y="735" width="1" height="24" fill="#c0c0c0"/>
<rect x="1323" y="734" width="1" height="25" fill="#c0c0c0"/>
<rect x="1331" y="735" width="1" height="24" fill="#c0c0c0"/>
<polyline points="3.5,749.4 11.5,748.9 19.5,748.2 27.5,747.4 35.5,746.8 43.5,746.0 51.5,745.3 59.5,744.6 67.5,744.0 75.5,742.9 83.5,741.7 91.5,740.4 99.5,737.8 107.5,734.5 115.5,731.1 123.5,727.1 131.5,723.5 139.5,719.9 147.5,716.5 155.5,713.9 163.5,712.0 171.5,710.9 179.5,710.8 187.5,711.5 195.5,711.7 203.5,711.9 211.5,712.5 219.5,711.9 227.5,711.9 235.5,712.5 243.5,712.7 251.5,712.9 259.5,713.7 267.5,714.6 275.5,715.7 283.5,717.0 291.5,718.5 299.5,719.8 307.5,720.9 315.5,721.8 323.5,722.4 331.5,722.6 339.5,723.5 347.5,724.5 355.5,726.1 363.5,728.6 371.5,730.5 379.5,733.5 387.5,737.4 395.5,741.3 403.5,745.2 411.5,750.0 419.5,753.7 427.5,756.7 435.5,759.2 443.5,761.0 451.5,762.5 459.5,763.3 467.5,763.5 475.5,763.5 483.5,763.5 491.5,763.3 499.5,763.3 507.5,764.1 515.5,765.4 523.5,766.8 531.5,769.1 539.5,770.4 547.5,771.8 555.5,773.1 563.5,774.2 571.5,774.5 579.5,774.3 587.5,773.3 595.5,771.5 603.5,769.5 611.5,767.5 619.5,766.2 627.5,764.7 635.5,763.4 643.5,762.4 651.5,761.2 659.5,760.2 667.5,759.2 675.5,758.0 683.5,757.1 691.5,756.5 699.5,756.4 707.5,756.4 715.5,757.6 723.5,759.2 731.5,761.3 739.5,764.7 747.5,769.3 755.5,773.0 763.5,776.5 771.5,779.3 779.5,783.0 787.5,785.0 795.5,787.3 803.5,788.4 811.5,788.8 819.5,788.3 827.5,787.9 835.5,787.1 843.5,786.4 851.5,786.3 859.5,786.9 867.5,787.1 875.5,787.4 883.5,788.5 891.5,790.0 899.5,791.3 907.5,792.6 915.5,794.2 923.5,795.2 931.5,795.3 939.5,795.1 947.5,793.9 955.5,791.8 963.5,789.1 971.5,785.1 979.5,781.4 987.5,776.9 995.5,773.0 1003.5,768.7 1011.5,764.3 1019.5,760.5 1027.5,756.8 1035.5,752.9 1043.5,749.2 1051.5,746.6 1059.5,743.4 1067.5,740.6 1075.5,738.4 1083.5,735.7 1091.5,733.5 1099.5,731.8 1107.5,730.6 1115.5,730.1 1123.5,729.7 1131.5,730.1 1139.5,731.4 1147.5,732.5 1155.5,733.5 1163.5,734.2 1171.5,734.4 1179.5,734.3 1187.5,734.3 1195.5,734.4 1203.5,734.3 1211.5,733.6 1219.5,733.2 1227.5,732.4 1235.5,732.3 1243.5,731.6 1251.5,731.7 1259.5,731.5 1267.5,731.3 1275.5,730.2 1283.5,729.8 1291.5,729.7 1299.5,729.8 1307.5,730.5 1315.5,731.3 1323.5,731.6 1331.5,732.3" fill="none" stroke="#ff0000" stroke-width="1" stroke-dasharray="3 3"/>
</g>
<rect x="2" y="701" width="1682" height="1" fill="#000"/>
<rect x="2" y="804" width="1682" height="1" fill="#000"/>
<rect x="2" y="701" width="1" height="104" fill="#000"/>
<rect x="1683" y="701" width="1" height="104" fill="#000"/>
<text x="7.3" y="714" font-size="10.2" fill="#000" text-anchor="start" stroke="#000" stroke-width="0.2" textLength="148.2" lengthAdjust="spacingAndGlyphs">MACD(12,26,9) 0.004074 0.004483</text>
<rect x="1684" y="703" width="2" height="1" fill="#000"/>
<rect x="1684" y="758" width="2" height="1" fill="#000"/>
<rect x="1684" y="803" width="2" height="1" fill="#000"/>
<text x="1687.2" y="712" font-size="10.2" fill="#000" text-anchor="start" stroke="#000" stroke-width="0.2" textLength="38.4" lengthAdjust="spacingAndGlyphs">0.009478</text>
<text x="1687.2" y="762" font-size="10.2" fill="#000" text-anchor="start" stroke="#000" stroke-width="0.2" textLength="18.4" lengthAdjust="spacingAndGlyphs">0.00</text>
<text x="1686.5" y="802" font-size="10.2" fill="#000" text-anchor="start" stroke="#000" stroke-width="0.2" textLength="42" lengthAdjust="spacingAndGlyphs">-0.007778</text>
<rect x="3" y="805" width="1" height="3" fill="#000"/>
<text x="2.1" y="817" font-size="10.2" fill="#000" text-anchor="start" stroke="#000" stroke-width="0.2" textLength="54.1" lengthAdjust="spacingAndGlyphs">18 Nov 2020</text>
<rect x="67" y="805" width="1" height="3" fill="#000"/>
<text x="66.1" y="817" font-size="10.2" fill="#000" text-anchor="start" stroke="#000" stroke-width="0.2" textLength="54.1" lengthAdjust="spacingAndGlyphs">27 Nov 2020</text>
<rect x="131" y="805" width="1" height="3" fill="#000"/>
<text x="130.1" y="817" font-size="10.2" fill="#000" text-anchor="start" stroke="#000" stroke-width="0.2" textLength="47.4" lengthAdjust="spacingAndGlyphs">7 Dec 2020</text>
<rect x="195" y="805" width="1" height="3" fill="#000"/>
<text x="194.1" y="817" font-size="10.2" fill="#000" text-anchor="start" stroke="#000" stroke-width="0.2" textLength="52.4" lengthAdjust="spacingAndGlyphs">16 Dec 2020</text>
<rect x="259" y="805" width="1" height="3" fill="#000"/>
<text x="258.1" y="817" font-size="10.2" fill="#000" text-anchor="start" stroke="#000" stroke-width="0.2" textLength="52.4" lengthAdjust="spacingAndGlyphs">25 Dec 2020</text>
<rect x="323" y="805" width="1" height="3" fill="#000"/>
<text x="322.1" y="817" font-size="10.2" fill="#000" text-anchor="start" stroke="#000" stroke-width="0.2" textLength="45.3" lengthAdjust="spacingAndGlyphs">6 Jan 2021</text>
<rect x="387" y="805" width="1" height="3" fill="#000"/>
<text x="386.1" y="817" font-size="10.2" fill="#000" text-anchor="start" stroke="#000" stroke-width="0.2" textLength="50.3" lengthAdjust="spacingAndGlyphs">15 Jan 2021</text>
<rect x="451" y="805" width="1" height="3" fill="#000"/>
<text x="450.1" y="817" font-size="10.2" fill="#000" text-anchor="start" stroke="#000" stroke-width="0.2" textLength="50.3" lengthAdjust="spacingAndGlyphs">25 Jan 2021</text>
<rect x="515" y="805" width="1" height="3" fill="#000"/>
<text x="514.1" y="817" font-size="10.2" fill="#000" text-anchor="start" stroke="#000" stroke-width="0.2" textLength="47.1" lengthAdjust="spacingAndGlyphs">3 Feb 2021</text>
<rect x="579" y="805" width="1" height="3" fill="#000"/>
<text x="578.1" y="817" font-size="10.2" fill="#000" text-anchor="start" stroke="#000" stroke-width="0.2" textLength="52.1" lengthAdjust="spacingAndGlyphs">12 Feb 2021</text>
<rect x="643" y="805" width="1" height="3" fill="#000"/>
<text x="642.1" y="817" font-size="10.2" fill="#000" text-anchor="start" stroke="#000" stroke-width="0.2" textLength="52.1" lengthAdjust="spacingAndGlyphs">22 Feb 2021</text>
<rect x="707" y="805" width="1" height="3" fill="#000"/>
<text x="706.1" y="817" font-size="10.2" fill="#000" text-anchor="start" stroke="#000" stroke-width="0.2" textLength="47.0" lengthAdjust="spacingAndGlyphs">3 Mar 2021</text>
<rect x="771" y="805" width="1" height="3" fill="#000"/>
<text x="770.1" y="817" font-size="10.2" fill="#000" text-anchor="start" stroke="#000" stroke-width="0.2" textLength="52.0" lengthAdjust="spacingAndGlyphs">12 Mar 2021</text>
<rect x="835" y="805" width="1" height="3" fill="#000"/>
<text x="834.1" y="817" font-size="10.2" fill="#000" text-anchor="start" stroke="#000" stroke-width="0.2" textLength="52.0" lengthAdjust="spacingAndGlyphs">22 Mar 2021</text>
<rect x="899" y="805" width="1" height="3" fill="#000"/>
<text x="898.1" y="817" font-size="10.2" fill="#000" text-anchor="start" stroke="#000" stroke-width="0.2" textLength="52.0" lengthAdjust="spacingAndGlyphs">31 Mar 2021</text>
<rect x="963" y="805" width="1" height="3" fill="#000"/>
<text x="962.1" y="817" font-size="10.2" fill="#000" text-anchor="start" stroke="#000" stroke-width="0.2" textLength="46.4" lengthAdjust="spacingAndGlyphs">9 Apr 2021</text>
<rect x="1027" y="805" width="1" height="3" fill="#000"/>
<text x="1026.1" y="817" font-size="10.2" fill="#000" text-anchor="start" stroke="#000" stroke-width="0.2" textLength="51.4" lengthAdjust="spacingAndGlyphs">19 Apr 2021</text>
<rect x="1091" y="805" width="1" height="3" fill="#000"/>
<text x="1090.1" y="817" font-size="10.2" fill="#000" text-anchor="start" stroke="#000" stroke-width="0.2" textLength="51.4" lengthAdjust="spacingAndGlyphs">28 Apr 2021</text>
<rect x="1155" y="805" width="1" height="3" fill="#000"/>
<text x="1154.1" y="817" font-size="10.2" fill="#000" text-anchor="start" stroke="#000" stroke-width="0.2" textLength="49.0" lengthAdjust="spacingAndGlyphs">7 May 2021</text>
<rect x="1219" y="805" width="1" height="3" fill="#000"/>
<text x="1218.1" y="817" font-size="10.2" fill="#000" text-anchor="start" stroke="#000" stroke-width="0.2" textLength="54.0" lengthAdjust="spacingAndGlyphs">17 May 2021</text>
<rect x="1283" y="805" width="1" height="3" fill="#000"/>
<text x="1282.1" y="817" font-size="10.2" fill="#000" text-anchor="start" stroke="#000" stroke-width="0.2" textLength="54.0" lengthAdjust="spacingAndGlyphs">26 May 2021</text>
<rect x="0" y="825" width="1724" height="1" fill="#e3e3e3"/>
<rect x="0" y="826" width="1724" height="1" fill="#ffffff"/>
<rect x="0" y="827" width="1724" height="1" fill="#000000"/>
<rect x="0" y="828" width="1724" height="19" fill="#f0f0f0"/>
<rect x="0" y="847" width="1724" height="1" fill="#fbfbfb"/>
<rect x="0" y="848" width="1724" height="3" fill="#f0f0f0"/>
<rect x="208" y="827" width="104" height="19" fill="#ffffff"/>
<rect x="208" y="827" width="1" height="19" fill="#000"/>
<rect x="311" y="827" width="1" height="19" fill="#000"/>
<rect x="208" y="845" width="104" height="1" fill="#000"/>
<rect x="209" y="827" width="102" height="1" fill="#ffffff"/>
<text x="14.0" y="842" font-size="12" fill="#6d6d6d" text-anchor="start" stroke="#6d6d6d" stroke-width="0.2" textLength="79.4" lengthAdjust="spacingAndGlyphs">USDCHF,Daily</text>
<text x="113.9" y="842" font-size="12" fill="#6d6d6d" text-anchor="start" stroke="#6d6d6d" stroke-width="0.2" textLength="83.6" lengthAdjust="spacingAndGlyphs">USDCNH,Daily</text>
<text x="220.0" y="842" font-size="12" fill="#000" text-anchor="start" stroke="#000" stroke-width="0.2" textLength="80.2" lengthAdjust="spacingAndGlyphs">EURUSD,Daily</text>
<text x="322.8" y="842" font-size="12" fill="#6d6d6d" text-anchor="start" stroke="#6d6d6d" stroke-width="0.2" textLength="82.7" lengthAdjust="spacingAndGlyphs">AUDUSD,Daily</text>
<text x="426.7" y="842" font-size="12" fill="#6d6d6d" text-anchor="start" stroke="#6d6d6d" stroke-width="0.2" textLength="81.6" lengthAdjust="spacingAndGlyphs">USDCAD,Daily</text>
<text x="530.5" y="842" font-size="12" fill="#6d6d6d" text-anchor="start" stroke="#6d6d6d" stroke-width="0.2" textLength="69.4" lengthAdjust="spacingAndGlyphs">XAUUSD,H1</text>
<text x="622.1" y="842" font-size="12" fill="#6d6d6d" text-anchor="start" stroke="#6d6d6d" stroke-width="0.2" textLength="50.9" lengthAdjust="spacingAndGlyphs">USOil,H4</text>
<rect x="104" y="830" width="1" height="14" fill="#6a6a6a"/>
<rect x="416" y="830" width="1" height="14" fill="#6a6a6a"/>
<rect x="520" y="830" width="1" height="14" fill="#6a6a6a"/>
<rect x="612" y="830" width="1" height="14" fill="#6a6a6a"/>
<rect x="684" y="830" width="1" height="14" fill="#6a6a6a"/>
<path d="M1702 832 L1698 836 L1702 840 Z" fill="#a0a0a0"/>
<path d="M1717.5 832 L1721.5 836 L1717.5 840 Z" fill="#a0a0a0"/>
</svg>
</body></html>
